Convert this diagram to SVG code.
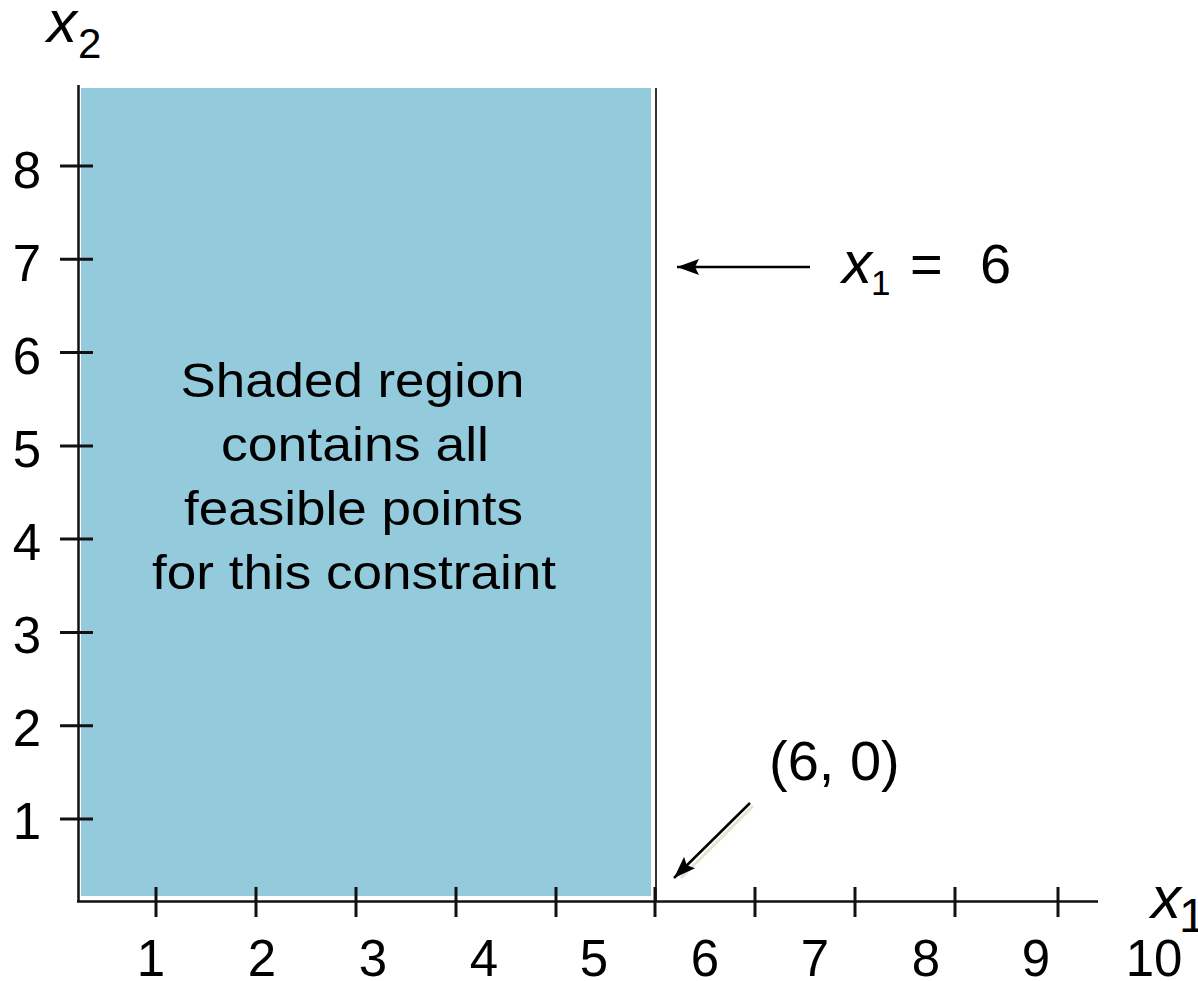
<svg xmlns="http://www.w3.org/2000/svg" width="1198" height="981" viewBox="0 0 1198 981">
<style>
.t{font-family:"Liberation Sans",Arial,sans-serif;fill:#000}
.num{font-size:51px}
.var{font-family:"Liberation Sans",Arial,sans-serif;font-style:italic;font-size:60px}
.axis{stroke:#111;stroke-width:2.5;fill:none}
.tick{stroke:#111;stroke-width:3}
.conn{stroke:#000;stroke-width:2.5;fill:none}
.shadow{stroke:#e6e2d4;stroke-width:3;fill:none}
</style>
<defs>
<marker id="ah" markerUnits="userSpaceOnUse" markerWidth="24" markerHeight="16" refX="22" refY="8" orient="auto">
<path d="M0,0 L22,8 L0,16 L4,8 Z" fill="#000"/>
</marker>
</defs>
<rect width="1198" height="981" fill="#fff"/>
<g id="feasible-region">
<rect x="81" y="88" width="570" height="808" fill="#93cbdd"/>
<text class="t" font-size="48">
<tspan x="180.5" y="397" textLength="344" lengthAdjust="spacingAndGlyphs">Shaded region</tspan>
<tspan x="221" y="461" textLength="268" lengthAdjust="spacingAndGlyphs">contains all</tspan>
<tspan x="184" y="525" textLength="339" lengthAdjust="spacingAndGlyphs">feasible points</tspan>
<tspan x="152" y="589" textLength="404" lengthAdjust="spacingAndGlyphs">for this constraint</tspan>
</text>
</g>
<g id="constraint-line">
<line x1="656" y1="88" x2="656" y2="901" stroke="#333" stroke-width="2"/>
</g>
<g id="axes">
<line class="axis" x1="78.5" y1="85" x2="78.5" y2="902"/>
<line class="axis" x1="77" y1="901.5" x2="1098" y2="901.5"/>
<g id="x-ticks">
<line class="tick" x1="156" y1="887" x2="156" y2="917"/>
<line class="tick" x1="256" y1="887" x2="256" y2="917"/>
<line class="tick" x1="356" y1="887" x2="356" y2="917"/>
<line class="tick" x1="456" y1="887" x2="456" y2="917"/>
<line class="tick" x1="556" y1="887" x2="556" y2="917"/>
<line class="tick" x1="655" y1="887" x2="655" y2="917"/>
<line class="tick" x1="755" y1="887" x2="755" y2="917"/>
<line class="tick" x1="855" y1="887" x2="855" y2="917"/>
<line class="tick" x1="955" y1="887" x2="955" y2="917"/>
<line class="tick" x1="1058" y1="887" x2="1058" y2="917"/>
</g>
<g id="y-ticks">
<line class="tick" x1="60" y1="166" x2="93" y2="166"/>
<line class="tick" x1="60" y1="259.3" x2="93" y2="259.3"/>
<line class="tick" x1="60" y1="352.6" x2="93" y2="352.6"/>
<line class="tick" x1="60" y1="445.9" x2="93" y2="445.9"/>
<line class="tick" x1="60" y1="539.1" x2="93" y2="539.1"/>
<line class="tick" x1="60" y1="632.4" x2="93" y2="632.4"/>
<line class="tick" x1="60" y1="725.7" x2="93" y2="725.7"/>
<line class="tick" x1="60" y1="819" x2="93" y2="819"/>
</g>
<g id="x-labels" class="t num" text-anchor="middle">
<text x="151" y="976">1</text>
<text x="262" y="976">2</text>
<text x="373" y="976">3</text>
<text x="484" y="976">4</text>
<text x="594" y="976">5</text>
<text x="705" y="976">6</text>
<text x="815" y="976">7</text>
<text x="926" y="976">8</text>
<text x="1036" y="976">9</text>
<text x="1154" y="976">10</text>
</g>
<g id="y-labels" class="t num" text-anchor="middle">
<text x="27" y="188">8</text>
<text x="27" y="281">7</text>
<text x="27" y="374">6</text>
<text x="27" y="467">5</text>
<text x="27" y="560">4</text>
<text x="27" y="653">3</text>
<text x="27" y="746">2</text>
<text x="27" y="839">1</text>
</g>
<g id="x2-label">
<text class="var" x="47" y="42">x</text>
<text class="t" font-size="42" x="78" y="58">2</text>
</g>
<g id="x1-label">
<text class="var" x="1151" y="918">x</text>
<text class="t" font-size="48" x="1179" y="932">1</text>
</g>
</g>
<g id="label-x1-eq-6">
<text class="var" x="842" y="283">x</text>
<text class="t" font-size="35" x="871" y="295">1</text>
<text class="t" font-size="56" x="910" y="283">=</text>
<text class="t" font-size="56" x="980" y="283">6</text>
</g>
<g id="label-6-0">
<text class="t" font-size="56" x="769" y="780">(6, 0)</text>
</g>
<g id="connectors">
<line class="shadow" x1="753" y1="806" x2="681" y2="878"/>
<line class="conn" x1="810" y1="267" x2="677" y2="267" marker-end="url(#ah)"/>
<line class="conn" x1="750" y1="803" x2="674" y2="878" marker-end="url(#ah)"/>
</g>
</svg>
